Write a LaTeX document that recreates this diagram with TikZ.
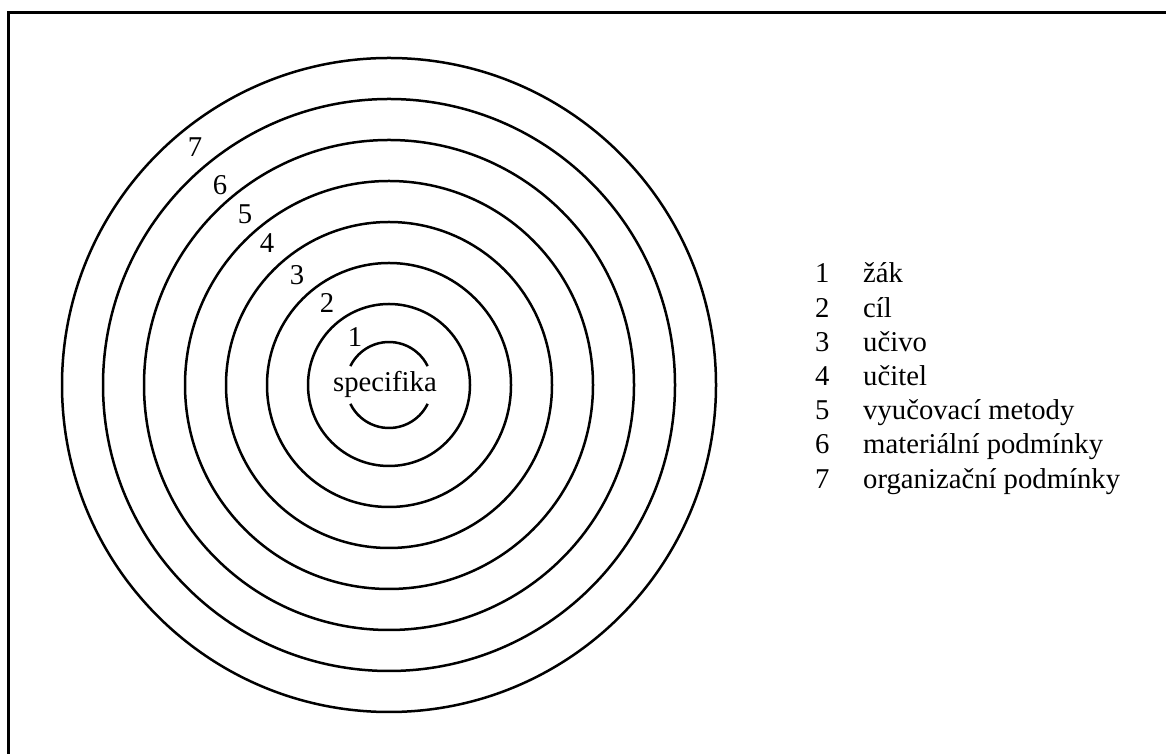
\documentclass[tikz,border=0pt]{standalone}
\usepackage{fontspec}
\setmainfont{Liberation Serif}
\begin{document}
\begin{tikzpicture}[x=1pt,y=1pt,
  ring/.style={line width=2.5pt},
  frame/.style={line width=3pt},
  lbl/.style={inner sep=0pt,font=\fontsize{28.7}{34}\selectfont},
]
\useasboundingbox (0,0) rectangle (1166,754);
% frame (only top and left edges are visible)
\draw[frame] (8,-10) -- (8,741.5) -- (1180,741.5);
% centre
\coordinate (c) at (389,369);
\foreach \r in {81,122,163,204,245,286,327}
  \draw[ring] (c) circle[radius=\r pt];
% inner broken circle
\draw[ring] (c) ++(26:43pt) arc[start angle=26,end angle=154,radius=43pt];
\draw[ring] (c) ++(206:43pt) arc[start angle=206,end angle=334,radius=43pt];
\node[lbl,anchor=base] (spec) at ([shift={(-4,-7)}]c) {specifika};
% ring numbers
\node[lbl] (r1) at ([shift={(-34,48)}]c) {1};
\node[lbl] (r2) at ([shift={(-62,82)}]c) {2};
\node[lbl] (r3) at ([shift={(-92,110)}]c) {3};
\node[lbl] (r4) at ([shift={(-122,142)}]c) {4};
\node[lbl] (r5) at ([shift={(-144,171)}]c) {5};
\node[lbl] (r6) at ([shift={(-169,200)}]c) {6};
\node[lbl] (r7) at ([shift={(-194,238)}]c) {7};
% legend
\foreach \i/\t [evaluate=\i as \y using 471-34.2*(\i-1)] in
  {1/žák,2/cíl,3/učivo,4/učitel,5/vyučovací metody,6/materiální podmínky,7/organizační podmínky}{
  \node[lbl,anchor=base west] (n\i) at (815,\y) {\i};
  \node[lbl,anchor=base west] (t\i) at (863,\y) {\t};
}
\end{tikzpicture}
\end{document}
